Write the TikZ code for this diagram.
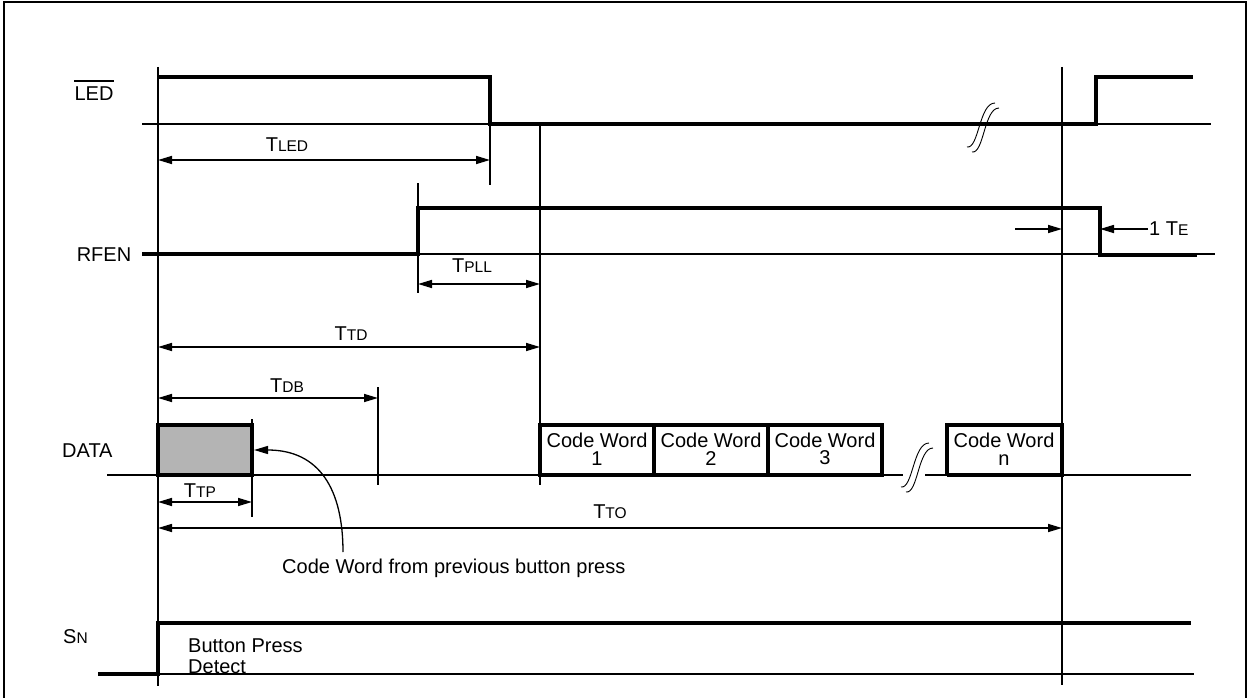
\documentclass[tikz,border=0pt]{standalone}
\usepackage{fontspec}
\setmainfont{Liberation Sans}
\usetikzlibrary{arrows.meta}
\definecolor{boxgray}{RGB}{180,180,180}
\newcommand{\smc}[1]{{\fontsize{15.5}{15}\selectfont #1}}
\tikzset{
  sigthin/.style={line width=1.8pt},
  sigthick/.style={line width=3.2pt},
  dimline/.style={line width=1.6pt, {Triangle[length=14pt,width=8pt]}-{Triangle[length=14pt,width=8pt]}},
  onearrow/.style={line width=1.6pt, -{Triangle[length=14pt,width=8pt]}},
  lbl/.style={font=\fontsize{20}{14}\selectfont, inner sep=0pt},
  cwlbl/.style={font=\fontsize{20}{17.5}\selectfont, inner sep=0pt, align=center},
  brk/.pic={
    \draw[line width=0.9pt] (-16,20) .. controls (-4,22) and (-4,-24) .. (12,-24);
    \draw[line width=0.9pt] (-11,25) .. controls (1,27) and (1,-19) .. (16,-19);
  }
}
\begin{document}
\begin{tikzpicture}[x=1pt,y=-1pt]
\useasboundingbox (0,0) rectangle (1250,698);
\draw[line width=2pt] (4,2) rectangle (1246,712);

% reference verticals
\coordinate (t0) at (158,67);   \coordinate (b0) at (158,686);
\coordinate (t1) at (1062,67);  \coordinate (b1) at (1062,685);
\coordinate (tled) at (490,77); \coordinate (bled) at (490,185);
\coordinate (ttd) at (540,124); \coordinate (btd) at (540,485);
\coordinate (tpll) at (418,183);\coordinate (bpll) at (418,293);
\coordinate (tdb) at (378,387); \coordinate (bdb) at (378,485);
\coordinate (ttp) at (252,419); \coordinate (btp) at (252,517);
\foreach \a/\b in {t0/b0,t1/b1,tled/bled,ttd/btd,tpll/bpll,tdb/bdb,ttp/btp}
  \draw[sigthin] (\a) -- (\b);

% baselines
\draw[sigthin] (142,124) -- (1211,124);
\draw[sigthin] (142,254) -- (1215,254);
\draw[sigthin] (107,475) -- (903,475);
\draw[sigthin] (925,475) -- (1191,475);
\draw[sigthin] (158,674) -- (1194,674);

% LED
\draw[sigthick] (158,77) -- (490,77) -- (490,124) -- (1096,124) -- (1096,77) -- (1193,77);
\pic at (983,127) {brk};
% RFEN
\draw[sigthick] (142,254) -- (418,254) -- (418,208) -- (1100,208) -- (1100,255) -- (1197,255);
% SN
\draw[sigthick] (98,674) -- (158,674) -- (158,623) -- (1191,623);

% DATA
\draw[sigthick, fill=boxgray] (158,425) rectangle (252,475);
\draw[sigthick] (540,425) rectangle (654,475);
\draw[sigthick] (654,425) rectangle (768,475);
\draw[sigthick] (768,425) rectangle (882,475);
\draw[sigthick] (947,475) -- (947,425) -- (1064,425);
\draw[sigthick] (1062,425) -- (1062,475) -- (947,475);
\pic at (917,467) {brk};
\node[cwlbl] (cw1) at (597,449) {Code Word\\1};
\node[cwlbl] (cw2) at (711,449) {Code Word\\2};
\node[cwlbl] (cw3) at (825,449) {Code Word\\3};
\node[cwlbl] (cwn) at (1004,449) {Code Word\\n};

% signal labels
\node[lbl, anchor=base] (lled) at (94,101) {LED};
\draw[line width=1.2pt] (lled.west |- 0,81) -- (lled.east |- 0,81);
\node[lbl, anchor=base] (lrfen) at (104,261) {RFEN};
\node[lbl, anchor=base west] (ldata) at (62,457) {DATA};
\node[lbl, anchor=base west] (lsn) at (63,643) {S\smc{N}};
\node[lbl, anchor=base west] (lbp) at (188,652) {Button Press};
\node[lbl, anchor=base west] (ldet) at (188,673) {Detect};

% dimensions
\coordinate (dl1) at (158,160); \coordinate (dr1) at (490,160);
\draw[dimline] (dl1) -- (dr1);
\node[lbl, anchor=base] (ntled) at (287,152) {T\smc{LED}};
\coordinate (dl2) at (418,284); \coordinate (dr2) at (540,284);
\draw[dimline] (dl2) -- (dr2);
\node[lbl, anchor=base] (ntpll) at (472,272) {T\smc{PLL}};
\coordinate (dl3) at (158,347); \coordinate (dr3) at (540,347);
\draw[dimline] (dl3) -- (dr3);
\node[lbl, anchor=base] (nttd) at (351,340) {T\smc{TD}};
\coordinate (dl4) at (158,398); \coordinate (dr4) at (378,398);
\draw[dimline] (dl4) -- (dr4);
\node[lbl, anchor=base] (ntdb) at (287,392) {T\smc{DB}};
\coordinate (dl5) at (158,502); \coordinate (dr5) at (252,502);
\draw[dimline] (dl5) -- (dr5);
\node[lbl, anchor=base] (nttp) at (200,497) {T\smc{TP}};
\coordinate (dl6) at (158,528); \coordinate (dr6) at (1062,528);
\draw[dimline] (dl6) -- (dr6);
\node[lbl, anchor=base] (ntto) at (610,518) {T\smc{TO}};

% 1 TE
\coordinate (ea) at (1015,229); \coordinate (eb) at (1062,229);
\coordinate (ec) at (1148,229); \coordinate (ed) at (1100,229);
\draw[onearrow] (ea) -- (eb);
\draw[onearrow] (ec) -- (ed);
\node[lbl, anchor=base west] (nte) at (1149,235) {1 T\smc{E}};

% code word from previous
\node[lbl, anchor=base west] (prev) at (282,573) {Code Word from previous button press};
\coordinate (cs) at (343,552); \coordinate (ce) at (254,450);
\draw[line width=1.3pt, -{Triangle[length=14pt,width=8pt]}] (cs) .. controls (343,490) and (320,450) .. (ce);
\end{tikzpicture}
\end{document}
